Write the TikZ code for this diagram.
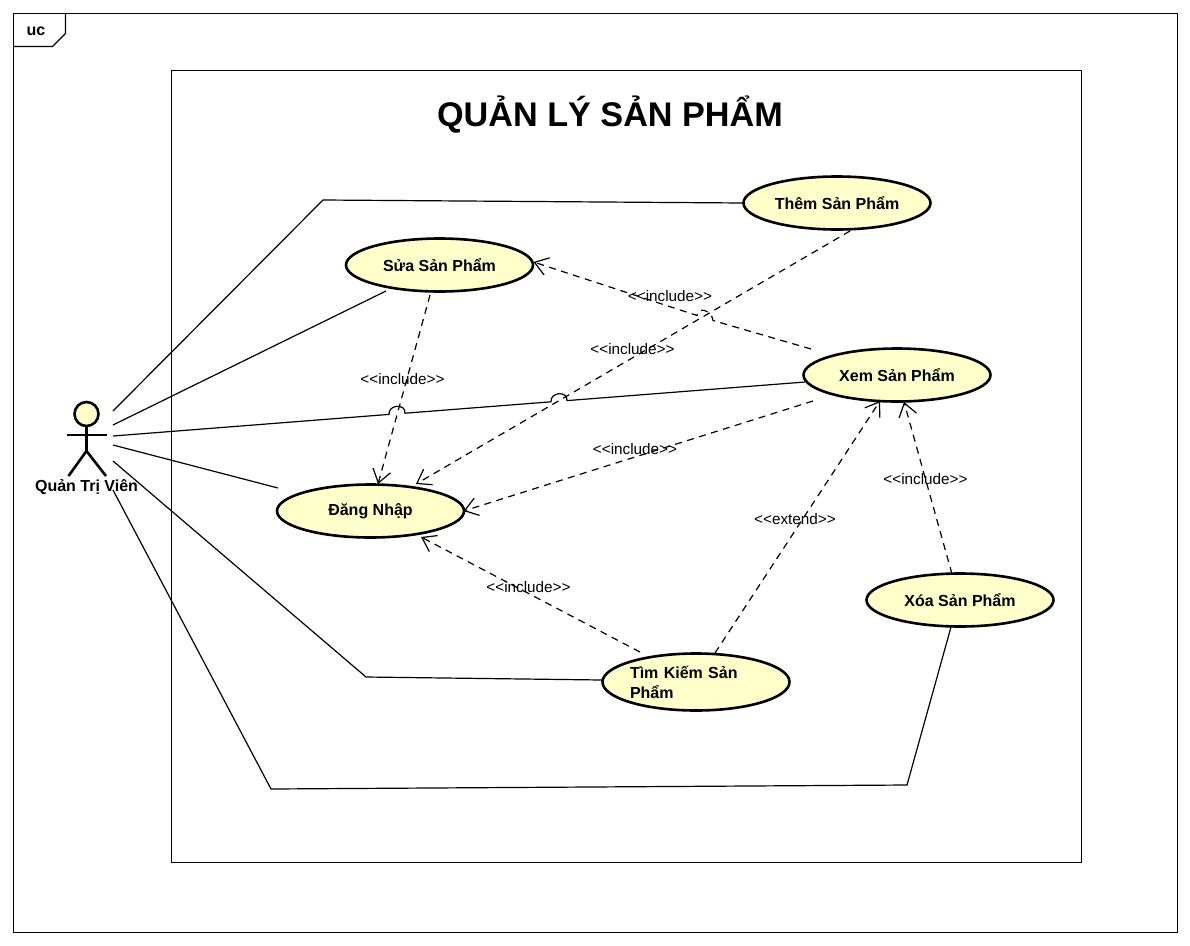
\documentclass[tikz,border=0pt]{standalone}
\usepackage{fontspec}
\setmainfont{Liberation Sans}
\usetikzlibrary{shapes.geometric,arrows.meta}
\definecolor{ucfill}{RGB}{255,255,204}
\tikzset{
  frameline/.style={draw=black,line width=1.1pt},
  usecase/.style={ellipse,draw=black,line width=2.6pt,fill=ucfill,minimum width=187pt,minimum height=53pt,inner sep=0pt,outer sep=0pt,font=\fontsize{16}{20}\selectfont\bfseries},
  assoc/.style={draw=black,line width=1.2pt},
  dep/.style={draw=black,line width=1.2pt,dash pattern=on 7pt off 5.5pt,-{Straight Barb[length=13pt,width=18pt,line width=1.2pt]}},
  deplabel/.style={inner sep=0pt,font=\fontsize{15.3}{17}\selectfont,text=black},
  stick/.style={draw=black,line width=2.6pt}
}
\begin{document}
\begin{tikzpicture}[x=1pt,y=-1pt]
\useasboundingbox[fill=white] (0,0) rectangle (1190,945);
% frames
\node[frameline,rectangle,inner sep=0pt,outer sep=0pt,minimum width=1164pt,minimum height=919pt] (outer) at (595.5,473) {};
\node[frameline,rectangle,inner sep=0pt,outer sep=0pt,minimum width=910pt,minimum height=792pt] (system) at (626.5,466.5) {};
\draw[frameline] (outer.north west) ++(0,33) -- ++(39,0) -- ++(13,-13) -- ++(0,-20);
\node[inner sep=0pt,font=\fontsize{16}{18}\selectfont\bfseries] (uc) at (36,31) {uc};
\node[inner sep=0pt,font=\fontsize{34.2}{40}\selectfont\bfseries] (title) at (610,115) {QUẢN LÝ SẢN PHẨM};
% actor
\node[circle,draw=black,line width=2.6pt,fill=ucfill,minimum size=24pt,inner sep=0pt,outer sep=0pt] (actor) at (86.5,414) {};
\draw[stick] (actor.south) -- ++(0,25) coordinate (hip) -- ++(-18,25);
\draw[stick] (hip) -- ++(19.5,25);
\draw[stick] ([shift={(-19.5,21)}]actor.center) -- ([shift={(20,21)}]actor.center);
\node[inner sep=0pt,font=\fontsize{16}{18}\selectfont\bfseries] (actorlabel) at (86.5,487) {Quản Trị Viên};
% use cases
\node[usecase] (them) at (837,203) {Thêm Sản Phẩm};
\node[usecase] (sua) at (439.5,265) {Sửa Sản Phẩm};
\node[usecase] (xem) at (897,375) {Xem Sản Phẩm};
\node[usecase] (dang) at (370.5,511) {Đăng Nhập};
\node[usecase,minimum height=57pt,text width=132pt,align=left] (tim) at (696,682) {Tìm Kiếm Sản\\Phẩm};
\node[usecase] (xoa) at (960,600) {Xóa Sản Phẩm};
% associations
\draw[assoc] ([shift={(26.5,-3)}]actor.center) -- (323,200) -- (them.west);
\draw[assoc] ([shift={(26.5,11)}]actor.center) -- ([shift={(-53.5,26)}]sua.center);
\draw[assoc] ([shift={(26.5,22)}]actor.center) -- (389,414.4) to[out=95,in=85,looseness=1.6] (405,413.2) -- (551,401.8) to[out=95,in=85,looseness=1.6] (567,400.6) -- ([shift={(-92,7)}]xem.center);
\draw[assoc] ([shift={(26.5,31)}]actor.center) -- ([shift={(-92.5,-23)}]dang.center);
\draw[assoc] ([shift={(26.5,47)}]actor.center) -- (366,677) -- ([shift={(-94,-2)}]tim.center);
\draw[assoc] ([shift={(26.5,76)}]actor.center) -- (271,789) -- (907,785) -- ([shift={(-9,27)}]xoa.center);
% dependencies
\draw[dep] ([shift={(13,28)}]them.center) -- ([shift={(45.5,-27)}]dang.center);
\draw[dep] ([shift={(-9.5,30)}]sua.center) -- ([shift={(7.5,-27)}]dang.center);
\draw[dep] ([shift={(-86,-26)}]xem.center) -- (713,320.5) to[out=95,in=85,looseness=1.5] (697,315.5) -- ([shift={(94,-3)}]sua.center);
\draw[dep] ([shift={(-84,26)}]xem.center) -- ([shift={(93,0)}]dang.center);
\draw[dep] ([shift={(-56,-30)}]tim.center) -- ([shift={(50.5,26)}]dang.center);
\draw[dep] ([shift={(19,-29)}]tim.center) -- ([shift={(-17,26)}]xem.center);
\draw[dep] ([shift={(-8,-26)}]xoa.center) -- ([shift={(7,27)}]xem.center);
% labels
\node[deplabel] (l1) at (670,296) {<{}<include>{}>};
\node[deplabel] (l2) at (632.5,349.5) {<{}<include>{}>};
\node[deplabel] (l3) at (402.5,379.5) {<{}<include>{}>};
\node[deplabel] (l4) at (635,449) {<{}<include>{}>};
\node[deplabel] (l5) at (528.5,587.5) {<{}<include>{}>};
\node[deplabel] (l6) at (795,519.5) {<{}<extend>{}>};
\node[deplabel] (l7) at (925.5,479.5) {<{}<include>{}>};
\end{tikzpicture}
\end{document}
